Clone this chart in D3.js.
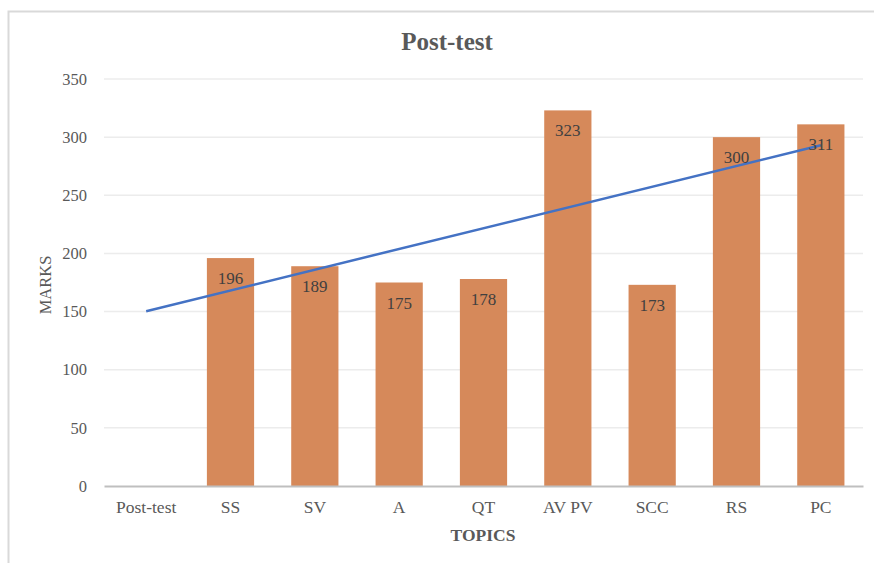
<!DOCTYPE html>
<html>
<head>
<meta charset="utf-8">
<script src="https://cdn.jsdelivr.net/npm/d3@7"></script>
<style>
  html, body { margin: 0; padding: 0; background: #fff; }
  svg { display: block; font-family: "Liberation Serif", "Times New Roman", serif; }
</style>
</head>
<body>
<svg id="chart" width="874" height="563"></svg>
<script>
// Topics on the x axis and post-test marks per topic (Post-test itself has no bar)
const categories = ["Post-test", "SS", "SV", "A", "QT", "AV PV", "SCC", "RS", "PC"];
const marks = [null, 196, 189, 175, 178, 323, 173, 300, 311];
const yTicks = [0, 50, 100, 150, 200, 250, 300, 350];

const svg = d3.select("#chart");
const W = 874, H = 563;
const margin = { left: 104, right: 11, top: 79, bottom: 77 };

// outer chart frame
svg.append("rect")
  .attr("x", 8.5).attr("y", 11.5)
  .attr("width", W + 10).attr("height", H + 10)
  .attr("fill", "#fff").attr("stroke", "#d9d9d9").attr("stroke-width", 2);

const x = d3.scaleBand()
  .domain(categories)
  .range([margin.left, W - margin.right])
  .paddingInner(0.44).paddingOuter(0.22);

const y = d3.scaleLinear()
  .domain([0, 350])
  .range([H - margin.bottom, margin.top]);

// horizontal gridlines
svg.append("g")
  .selectAll("line")
  .data(yTicks.filter(d => d > 0))
  .join("line")
  .attr("x1", margin.left).attr("x2", W - margin.right)
  .attr("y1", d => y(d)).attr("y2", d => y(d))
  .attr("stroke", "#ececec").attr("stroke-width", 1.5);

// y axis tick labels
const yAxis = d3.axisLeft(y).tickValues(yTicks).tickSize(0).tickPadding(17);
svg.append("g")
  .attr("transform", `translate(${margin.left},0)`)
  .call(yAxis)
  .call(g => g.select(".domain").remove())
  .call(g => g.selectAll("text")
    .attr("font-family", "Liberation Serif, serif")
    .attr("font-size", 16.5).attr("fill", "#595959"));

// bars
const bars = categories.map((c, i) => ({ c, v: marks[i] })).filter(d => d.v != null);
svg.append("g")
  .selectAll("rect")
  .data(bars)
  .join("rect")
  .attr("x", d => x(d.c))
  .attr("width", x.bandwidth())
  .attr("y", d => y(d.v))
  .attr("height", d => y(0) - y(d.v))
  .attr("fill", "#d6895a");

// x axis baseline and labels
const xAxis = d3.axisBottom(x).tickSize(0).tickPadding(15);
svg.append("g")
  .attr("transform", `translate(0,${y(0)})`)
  .call(xAxis)
  .call(g => g.select(".domain").attr("stroke", "#bfbfbf").attr("stroke-width", 2))
  .call(g => g.selectAll("text")
    .attr("font-family", "Liberation Serif, serif")
    .attr("font-size", 17.5).attr("fill", "#595959"));

// linear trendline fitted to the plotted bars
const pts = bars.map(d => [categories.indexOf(d.c) + 1, d.v]);
const mx = d3.mean(pts, p => p[0]), my = d3.mean(pts, p => p[1]);
const slope = d3.sum(pts, p => (p[0] - mx) * (p[1] - my)) / d3.sum(pts, p => (p[0] - mx) ** 2);
const icpt = my - slope * mx;
const trend = [1, categories.length].map(k => ({ c: categories[k - 1], v: icpt + slope * k }));
svg.append("path")
  .datum(trend)
  .attr("d", d3.line().x(d => x(d.c) + x.bandwidth() / 2).y(d => y(d.v)))
  .attr("fill", "none").attr("stroke", "#4472c4").attr("stroke-width", 2.5);

// value labels inside the top of each bar
svg.append("g")
  .selectAll("text")
  .data(bars)
  .join("text")
  .attr("x", d => x(d.c) + x.bandwidth() / 2)
  .attr("y", d => y(d.v) + 26)
  .attr("text-anchor", "middle")
  .attr("font-size", 17).attr("fill", "#404040")
  .text(d => d.v);

// title
svg.append("text")
  .attr("x", 447).attr("y", 50)
  .attr("text-anchor", "middle")
  .attr("font-size", 25).attr("font-weight", "bold").attr("fill", "#595959")
  .text("Post-test");

// axis titles
svg.append("text")
  .attr("x", 483).attr("y", 541)
  .attr("text-anchor", "middle")
  .attr("font-size", 17.5).attr("font-weight", "bold").attr("fill", "#595959")
  .text("TOPICS");

svg.append("text")
  .attr("transform", "translate(51,285) rotate(-90)")
  .attr("text-anchor", "middle")
  .attr("font-size", 16.5).attr("fill", "#595959")
  .text("MARKS");
</script>
</body>
</html>
